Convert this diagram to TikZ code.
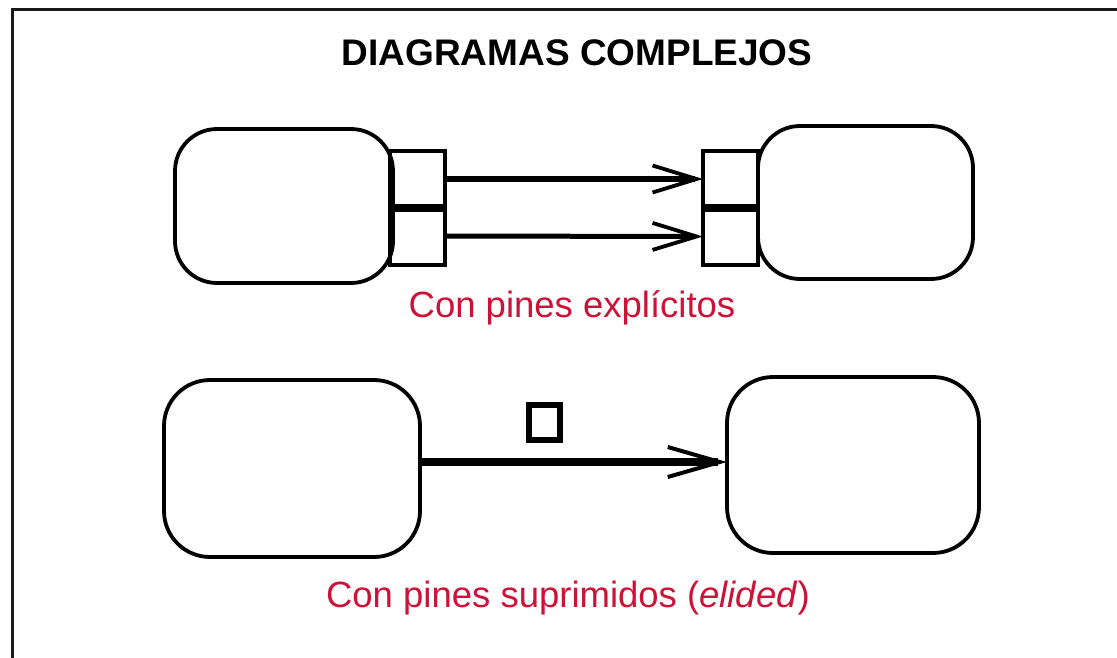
\documentclass[tikz,border=0pt]{standalone}
\usepackage{fontspec}
\setmainfont{Liberation Sans}
\usetikzlibrary{arrows.meta}
\definecolor{lblred}{RGB}{206,17,55}
\begin{document}
\begin{tikzpicture}[x=1pt,y=-1pt,
  action/.style={draw,line width=3.8pt,rounded corners=42pt,inner sep=0pt,outer sep=0pt},
  pinbox/.style={draw,line width=4pt,inner sep=0pt,outer sep=0pt,minimum width=55pt,minimum height=57pt},
  flow/.style={-{Straight Barb[length=44pt,width=27pt,line width=3.8pt]}},
  lbl/.style={text=lblred,font=\fontsize{36.5}{40}\selectfont,anchor=base,inner sep=0pt}]
\useasboundingbox (0,0) rectangle (1117,657);
\clip (0,0) rectangle (1117,657);
\draw[line width=2.8pt,draw=black!90] (12.5,9.5) rectangle (1140,680);
% title
\node[font=\fontsize{37}{42}\selectfont\bfseries,anchor=base,inner sep=0pt] (title) at (577,65) {DIAGRAMAS COMPLEJOS};
% upper diagram
\node[action,minimum width=218pt,minimum height=154pt] (a1) at (284,206) {};
\node[action,minimum width=215pt,minimum height=153pt] (a2) at (865.5,202.5) {};
\node[pinbox] (p1) at (417.5,179) {};
\node[pinbox] (p2) at (417.5,236) {};
\node[pinbox] (p3) at (730.5,179) {};
\node[pinbox] (p4) at (730.5,236.5) {};
\draw[line width=8pt] (p1.south west) -- (p1.south east);
\draw[line width=8pt] (p3.south west) -- (p3.south east);
\draw[flow,line width=6.5pt] (p1.east) -- (p3.west);
\draw[flow,line width=5pt] (p2.east) -- (p4.west);
\node[lbl] (l1) at (572,317) {Con pines explícitos};
% lower diagram
\node[action,minimum width=256pt,minimum height=177pt,rounded corners=46pt] (b1) at (292,468.5) {};
\node[action,minimum width=252pt,minimum height=176pt,rounded corners=46pt] (b2) at (853,465) {};
\draw[-{Straight Barb[length=52pt,width=30pt,line width=4pt]},line width=8pt] (b1.east |- 0,462) coordinate (s) -- (b2.west |- 0,462) coordinate (e);
\node[draw,line width=6pt,inner sep=0pt,outer sep=0pt,minimum width=31pt,minimum height=35pt] (pin) at (544.5,422.5) {};
\node[lbl] (l2) at (568,607) {Con pines suprimidos (\textit{elided})};
\end{tikzpicture}
\end{document}
